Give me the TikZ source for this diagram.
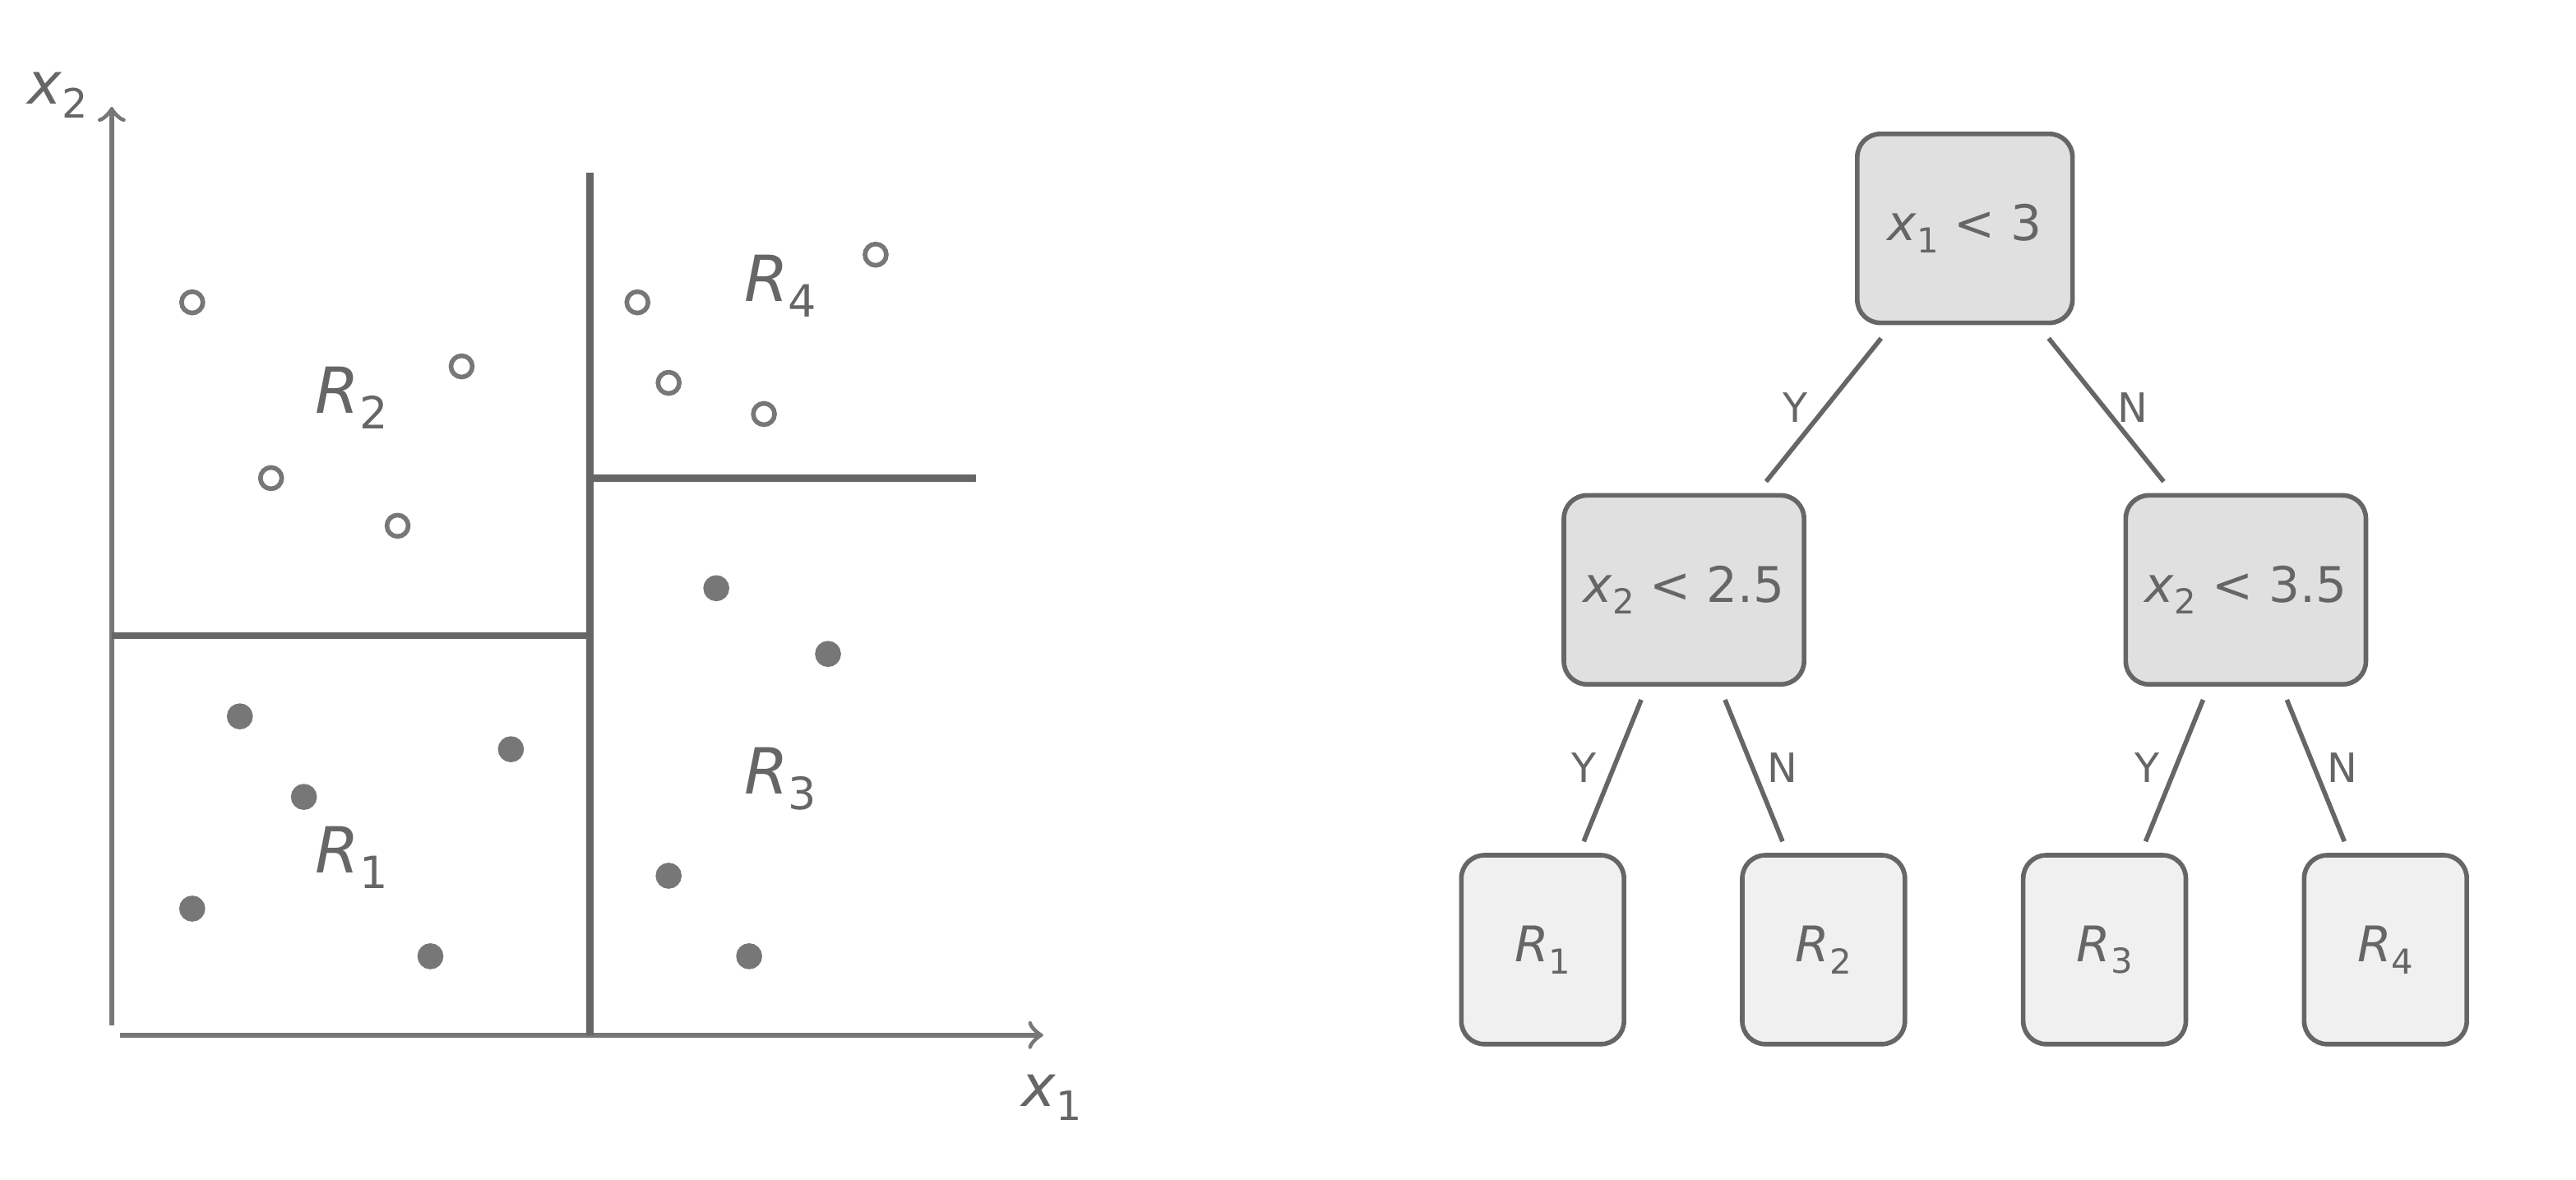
\documentclass[tikz,border=0pt]{standalone}
\usepackage{fontspec}
\setmainfont{DejaVu Sans}
\usetikzlibrary{positioning}
\definecolor{ink}{HTML}{666666}
\definecolor{axis}{HTML}{777777}
\definecolor{dark}{HTML}{E0E0E0}
\definecolor{light}{HTML}{F0F0F0}
\newcommand{\mv}[2]{\textit{#1}\raisebox{-0.45ex}{\scalebox{0.7}{#2}}}
\tikzset{
  split/.style={ink,line width=1.2pt},
  open/.style={draw=axis,line width=0.8pt,fill=white,circle,inner sep=0pt,minimum size=0.13cm},
  full/.style={draw=axis,line width=0.8pt,fill=axis,circle,inner sep=0pt,minimum size=0.13cm},
  test/.style={draw=ink,line width=0.8pt,fill=dark,rounded corners=4pt,minimum width=1.31cm,minimum height=1.15cm,text=ink,font=\fontsize{8.5}{10}\selectfont},
  leaf/.style={test,fill=light,minimum width=0.99cm},
  edge/.style={ink,line width=0.8pt},
  ans/.style={text=ink,font=\fontsize{7}{8}\selectfont}
}
\begin{document}
\begin{tikzpicture}
  \useasboundingbox (0,0) rectangle (15.68,7.18);
  % partition of the plane
  \draw[axis,line width=0.8pt,->] (0.73,0.88) -- (6.35,0.88);
  \draw[axis,line width=0.8pt,->] (0.68,0.94) -- (0.68,6.53);
  \node[text=ink,font=\fontsize{10}{12}\selectfont] (x2) at (0.35,6.6) {\mv{x}{2}};
  \node[text=ink,font=\fontsize{10}{12}\selectfont] (x1) at (6.40,0.50) {\mv{x}{1}};
  \draw[split] (3.59,6.13) -- (3.59,0.88);
  \draw[split] (0.68,3.31) -- (3.59,3.31);
  \draw[split] (3.59,4.27) -- (5.94,4.27);
  \foreach \n/\x/\y/\i in {r2/2.14/4.76/2,r4/4.75/5.44/4,r3/4.75/2.44/3,r1/2.14/1.96/1}
    \node[text=ink,font=\fontsize{11}{12}\selectfont] (\n) at (\x,\y) {\mv{R}{\i}};
  \foreach \x/\y in {117/184,281/223,165/291,242/320,388/184,407/233,465/252,533/155}
    \node[open] at (\x/100,7.18-\y/100) {};
  \foreach \x/\y in {436/358,504/398,146/436,311/456,185/485,117/553,262/582,407/533,456/582}
    \node[full] at (\x/100,7.18-\y/100) {};
  % tree
  \node[test] (root) at (11.96,5.79) {\mv{x}{1} < 3};
  \node[test] (left) at (10.25,3.59) {\mv{x}{2} < 2.5};
  \node[test] (right) at (13.67,3.59) {\mv{x}{2} < 3.5};
  \node[leaf] (l1) at (9.39,1.40) {\mv{R}{1}};
  \node[leaf] (l2) at (11.10,1.40) {\mv{R}{2}};
  \node[leaf] (l3) at (12.81,1.40) {\mv{R}{3}};
  \node[leaf] (l4) at (14.52,1.40) {\mv{R}{4}};
  \draw[edge] ([xshift=-5.1mm,yshift=-0.8mm]root.south) -- ([xshift=5mm,yshift=0.7mm]left.north);
  \draw[edge] ([xshift=5.1mm,yshift=-0.8mm]root.south) -- ([xshift=-5mm,yshift=0.7mm]right.north);
  \foreach \p/\a/\b in {left/l1/l2,right/l3/l4}{
    \draw[edge] ([xshift=-2.6mm,yshift=-0.8mm]\p.south) -- ([xshift=2.5mm,yshift=0.7mm]\a.north);
    \draw[edge] ([xshift=2.5mm,yshift=-0.8mm]\p.south) -- ([xshift=-2.5mm,yshift=0.7mm]\b.north);
  }
  \node[ans] (y0) at (10.93,4.70) {Y};
  \node[ans] (n0) at (12.98,4.70) {N};
  \node[ans] (y1) at (9.64,2.51) {Y};
  \node[ans] (n1) at (10.85,2.51) {N};
  \node[ans] (y2) at (13.07,2.51) {Y};
  \node[ans] (n2) at (14.26,2.51) {N};
\end{tikzpicture}
\end{document}
